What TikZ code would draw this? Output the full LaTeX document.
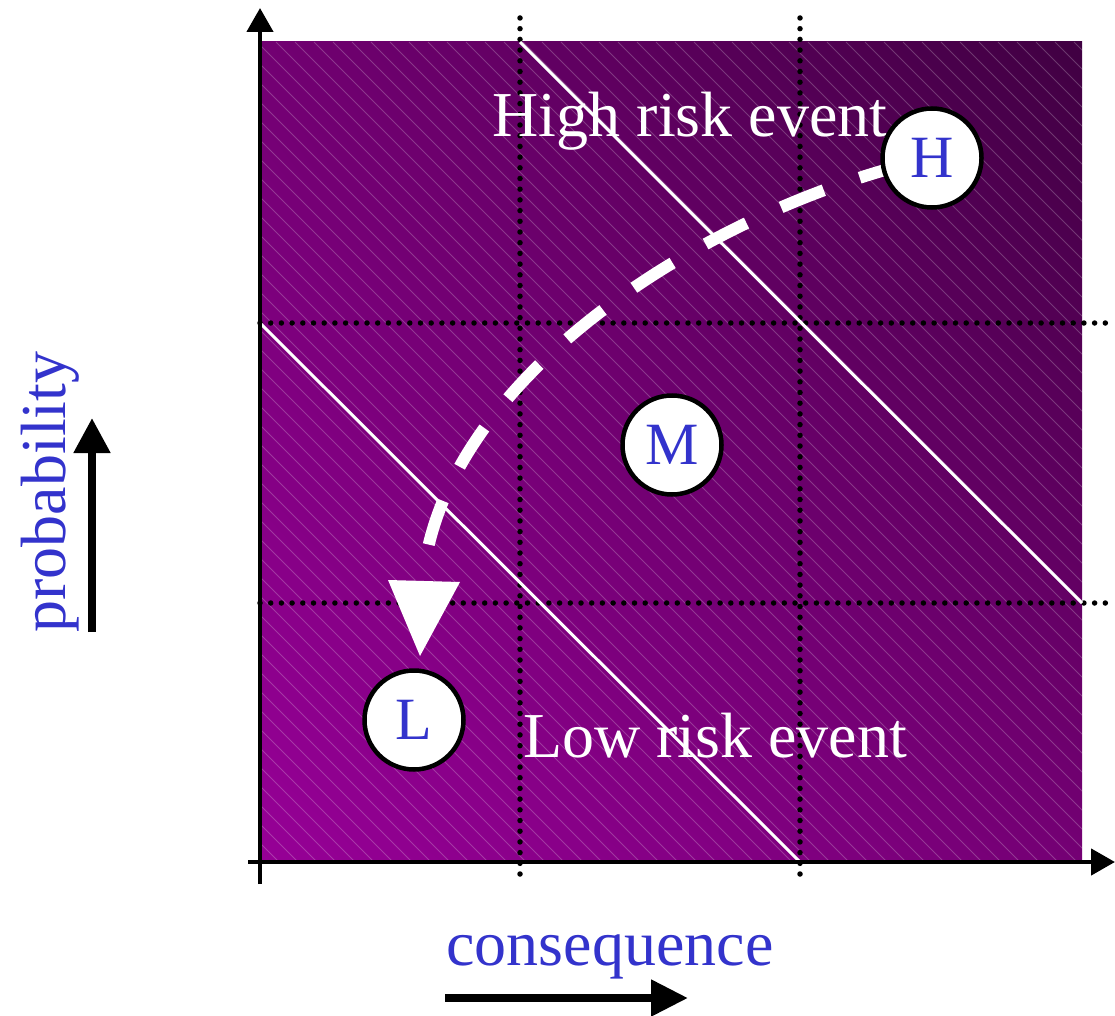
\documentclass[tikz,border=0pt]{standalone}
\usepackage{fontspec}
\setmainfont{Liberation Serif}
\usetikzlibrary{arrows.meta, shadings}

\definecolor{riskblue}{RGB}{51,51,204}
\definecolor{purpleLL}{RGB}{150,0,150}
\definecolor{purpleUL}{RGB}{114,0,114}
\definecolor{purpleLR}{RGB}{116,0,116}
\definecolor{purpleUR}{RGB}{64,0,66}

\tikzset{
  gridline/.style={line width=5.5pt, line cap=round, dash pattern=on 0pt off 10.7pt},
  hatch/.style={white, opacity=0.22, line width=0.8pt},
  riskline/.style={white, line width=3pt},
  riskcircle/.style={circle, draw=black, line width=4.5pt, fill=white,
    minimum size=99pt, inner sep=0pt, text=riskblue,
    font=\fontsize{60}{60}\selectfont},
  bigtext/.style={font=\fontsize{64}{70}\selectfont}
}

\begin{document}
\begin{tikzpicture}[x=1pt, y=-1pt, >={Triangle[length=24pt,width=26pt]}]
    \useasboundingbox (0,0) rectangle (1115,1016);

    % 1. Shaded square with thin hatching
    \shade[lower left=purpleLL, upper left=purpleUL, lower right=purpleLR,
        upper right=purpleUR] (260,42) rectangle (1082,862);
    \begin{scope}
        \clip (260,42) rectangle (1082,862);
        \foreach \c in {-602,-583,...,1040}
            \draw[hatch] (\c+42,42) -- (\c+862,862);
    \end{scope}

    % 2. Dotted grid
    \draw[gridline] (520,18) -- (520,880);
    \draw[gridline] (800,18) -- (800,880);
    \draw[gridline] (260,323) -- (1115,323);
    \draw[gridline] (260,603) -- (1115,603);

    % 3. Risk borders
    \draw[riskline] (520,42) -- (1082,603);
    \draw[riskline] (260,323) -- (800,862);

    % 4. Axes
    \draw[->, line width=4.5pt] (260,884) -- (260,8);
    \draw[->, line width=4.5pt] (248,862) -- (1115,862);

    % 5. Region labels
    \node[bigtext, white, anchor=base] (hightext) at (690,137) {High risk event};
    \node[bigtext, white, anchor=base] (lowtext) at (715,757) {Low risk event};

    % 6. Dashed path from H down to L
    \coordinate (hcentre) at (932,158);
    \coordinate (pathend) at (428,548);
    \draw[white, line width=12pt, dash pattern=on 46pt off 38pt, dash phase=55pt]
        (hcentre) .. controls (720,205) and (470,360) .. (pathend);
    \fill[white] (388,580) -- (460,582) -- (420,656) -- cycle;

    % 7. Events
    \node[riskcircle] (H) at (hcentre) {H};
    \node[riskcircle] (M) at (672,445) {M};
    \node[riskcircle] (L) at (414,720) {L};

    % 8. Axis titles
    \coordinate (conleft) at (445,998);
    \coordinate (conright) at (688,998);
    \node[bigtext, text=riskblue, anchor=base] (consequence) at (610,965) {consequence};
    \draw[-{Triangle[length=37pt,width=35pt]}, line width=8pt] (conleft) -- (conright);

    \coordinate (probbottom) at (92,632);
    \coordinate (probtop) at (92,418);
    \node[bigtext, text=riskblue, rotate=90, anchor=base] (probability) at (65,492) {probability};
    \draw[-{Triangle[length=35pt,width=35pt]}, line width=8pt] (probbottom) -- (probtop);

\end{tikzpicture}
\end{document}
